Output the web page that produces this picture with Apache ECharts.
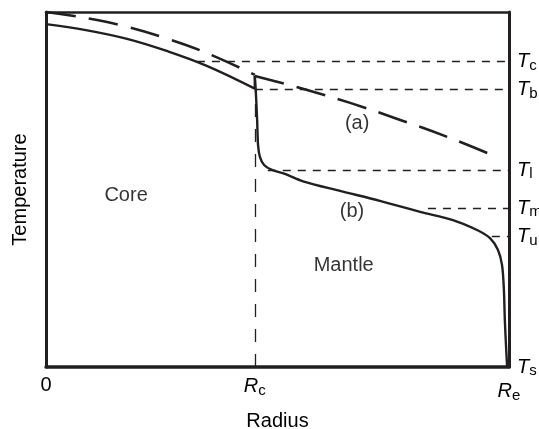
<!DOCTYPE html>
<html><head><meta charset="utf-8">
<script src="https://cdn.jsdelivr.net/npm/echarts@6/dist/echarts.min.js"></script>
<style>html,body{margin:0;padding:0;background:#fff}#c{width:539px;height:429px}</style>
</head><body><div id="c"></div>
<script>
// ---- data (radius as fraction of Re, temperature normalized: Ts=0, top of frame=1) ----
const RC = 0.451;
const xTickValues = [0, RC, 1];
const xTickLabels = ['0', 'R_c', 'R_e'];
const tempLevels = [0, 0.368, 0.448, 0.555, 0.782, 0.860];
const tempSubs   = ['s', 'u', 'm', 'l', 'b', 'c'];
const refStarts  = [null, 0.963, 0.825, 0.479, 0.451, 0.326];
const TB = 0.782;

// curve (a): dashed
const curveA_core = [[0,1.0],[0.086,0.983],[0.173,0.959],[0.259,0.926],[0.346,0.885],[0.451,0.823]];
const curveA_mantle = [[0.451,0.820],[0.549,0.786],[0.657,0.744],[0.765,0.696],[0.873,0.645],[0.978,0.589]];
// curve (b): solid
const curveB_core = [[0,0.966],[0.086,0.949],[0.173,0.925],[0.259,0.891],[0.346,0.849],[0.451,0.784]];
const curveB_jump = [[0.451,0.784],[0.451,0.820]];
const curveB_mantle = [[0.451,0.820],[0.453,0.780],[0.456,0.696],[0.458,0.625],[0.462,0.592],[0.471,0.569],
  [0.488,0.555],[0.516,0.544],[0.555,0.523],[0.635,0.496],[0.721,0.468],[0.808,0.437],[0.879,0.414],
  [0.931,0.386],[0.959,0.363],[0.976,0.330],[0.985,0.287],[0.989,0.217],[0.991,0.132],[0.994,0.048],[0.996,0]];

const annotations = [
  {name:'Core', value:[0.173,0.484]},
  {name:'Mantle', value:[0.643,0.287]},
  {name:'(a)', value:[0.672,0.685]},
  {name:'(b)', value:[0.661,0.439]}
];

const FONT = "'Liberation Sans', Arial, Helvetica, sans-serif";
const INK = '#231f20';

const refLineData = [];
tempLevels.forEach((y, i) => {
  if (refStarts[i] !== null) refLineData.push([{coord:[refStarts[i], y]}, {coord:[1, y]}]);
});

const chart = echarts.init(document.getElementById('c'), null, {renderer:'canvas'});
chart.setOption({
  animation: false,
  backgroundColor: '#fff',
  textStyle: {fontFamily: FONT},
  grid: {left: 46, right: 30, top: 12, bottom: 62, outerBoundsMode: 'none', containLabel: false},
  xAxis: [
    {type:'value', min:0, max:1, position:'bottom',
     axisLine:{show:true, onZero:false, lineStyle:{color:INK, width:3.5}},
     axisTick:{show:false}, splitLine:{show:false},
     axisLabel:{show:true, customValues: xTickValues, margin: 8, color:'#000', fontFamily: FONT, fontSize: 20,
       formatter: function(v){
         const i = xTickValues.findIndex(t => Math.abs(t - v) < 1e-6);
         const s = i < 0 ? '' : xTickLabels[i];
         if (s.indexOf('_') < 0) return '{n|' + s + '}';
         const p = s.split('_');
         if (i === xTickValues.length - 1) return '{t2|' + p[0] + '}{s2|' + p[1] + '}';
         return '{t|' + p[0] + '}{s|' + p[1] + '}';
       },
       rich:{
         n:{fontSize:20, fontFamily:FONT, color:'#000'},
         t:{fontSize:20, fontStyle:'italic', fontFamily:FONT, color:'#000'},
         s:{fontSize:15, fontFamily:FONT, color:'#000', padding:[8,0,0,0]},
         t2:{fontSize:20, fontStyle:'italic', fontFamily:FONT, color:'#000', padding:[5,0,0,0]},
         s2:{fontSize:15, fontFamily:FONT, color:'#000', padding:[13,0,0,0]}
       }},
     name:'Radius', nameLocation:'middle', nameGap:44,
     nameTextStyle:{fontSize:20, color:'#000', fontFamily:FONT}},
    {type:'value', min:0, max:1, position:'top',
     axisLine:{show:true, onZero:false, lineStyle:{color:INK, width:2.5}},
     axisTick:{show:false}, axisLabel:{show:false}, splitLine:{show:false}}
  ],
  yAxis: [
    {type:'value', min:0, max:1, position:'left',
     axisLine:{show:true, onZero:false, lineStyle:{color:INK, width:3}},
     axisTick:{show:false}, axisLabel:{show:false}, splitLine:{show:false},
     name:'Temperature', nameLocation:'middle', nameRotate:90, nameGap:16,
     nameTextStyle:{fontSize:20, color:'#000', fontFamily:FONT}},
    {type:'value', min:0, max:1, position:'right',
     axisLine:{show:true, onZero:false, lineStyle:{color:INK, width:3}},
     axisTick:{show:false}, splitLine:{show:false},
     axisLabel:{show:true, customValues: tempLevels, margin: 8, align:'left',
       formatter: function(v){
         const i = tempLevels.findIndex(t => Math.abs(t - v) < 1e-6);
         return i < 0 ? '' : '{t|T}{s|' + tempSubs[i] + '}';
       },
       rich:{
         t:{fontSize:20, fontStyle:'italic', fontFamily:FONT, color:'#000'},
         s:{fontSize:15, fontFamily:FONT, color:'#000', padding:[8,0,0,0]}
       }}}
  ],
  series: [
    {type:'line', name:'a-core', data:curveA_core, smooth:0.4, symbol:'none',
     lineStyle:{color:INK, width:2.6, type:[30,13]}},
    {type:'line', name:'a-mantle', data:curveA_mantle, smooth:0.4, symbol:'none',
     lineStyle:{color:INK, width:2.6, type:[30,13]}},
    {type:'line', name:'b-core', data:curveB_core, smooth:0.4, symbol:'none',
     lineStyle:{color:INK, width:2.4}},
    {type:'line', name:'b-jump', data:curveB_jump, symbol:'none',
     lineStyle:{color:INK, width:2.4}},
    {type:'line', name:'b-mantle', data:curveB_mantle, smooth:0.3, symbol:'none',
     lineStyle:{color:INK, width:2.4}},
    {type:'line', name:'refs', data:[], symbol:'none',
     markLine:{silent:true, symbol:['none','none'], label:{show:false},
       lineStyle:{color:INK, width:1.3, type:[8,7]},
       data: refLineData.concat([[{coord:[RC,0], lineStyle:{type:[13,12], width:1.3, color:INK}}, {coord:[RC,TB]}]])}},
    {type:'scatter', name:'notes', data:annotations, symbolSize:1,
     itemStyle:{color:'rgba(0,0,0,0)'},
     label:{show:true, position:'inside', formatter:'{b}', fontSize:20, color:'#000', fontFamily:FONT}}
  ]
});
</script></body></html>
